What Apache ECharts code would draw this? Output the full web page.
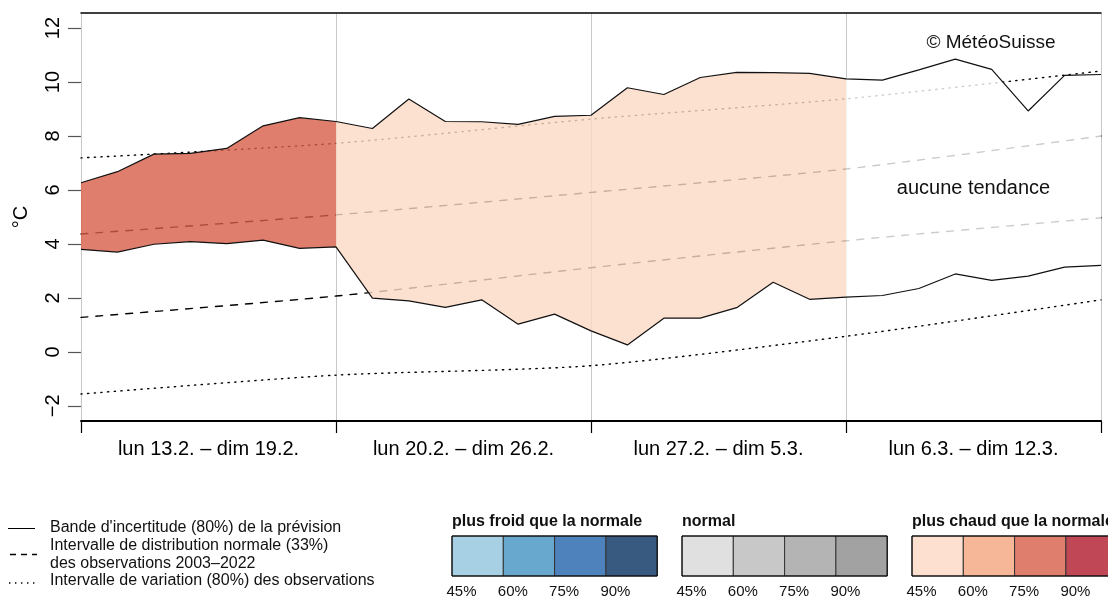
<!DOCTYPE html>
<html><head><meta charset="utf-8">
<script src="https://cdn.jsdelivr.net/npm/echarts@6/dist/echarts.min.js"></script>
<style>html,body{margin:0;padding:0;background:#fff}#c{width:1108px;height:605px}</style>
</head><body><div id="c"></div>
<script>
// ---- data ----
const dayIndex = [0,1,2,3,4,5,6,7,8,9,10,11,12,13,14,15,16,17,18,19,20,21,22,23,24,25,26,27,28];
const weekLabels = ['lun 13.2. – dim 19.2.', 'lun 20.2. – dim 26.2.', 'lun 27.2. – dim 5.3.', 'lun 6.3. – dim 12.3.'];
const weekBounds = [0, 7, 14, 21, 28];
const weekMids = [3.5, 10.5, 17.5, 24.5];
const yTicks = [-2, 0, 2, 4, 6, 8, 10, 12];
// forecast uncertainty band (80%)
const maxTemp = [6.27,6.68,7.33,7.36,7.54,8.38,8.68,8.54,8.28,9.37,8.54,8.53,8.43,8.73,8.77,9.79,9.54,10.17,10.36,10.35,10.32,10.12,10.07,10.45,10.85,10.47,8.93,10.25,10.28];
const minTemp = [3.80,3.70,3.99,4.09,4.01,4.14,3.84,3.89,1.99,1.89,1.65,1.93,1.03,1.40,0.78,0.26,1.25,1.25,1.64,2.58,1.95,2.03,2.09,2.35,2.89,2.65,2.81,3.14,3.21];
// climatology 2003-2022
const climDays = [0, 7, 14, 21, 28];
const normLow  = [1.28, 2.07, 3.12, 4.12, 4.97];
const normHigh = [4.37, 5.08, 5.91, 6.78, 8.00];
const varLow   = [-1.56, -0.86, -0.51, 0.58, 1.93];
const varHigh  = [7.19, 7.73, 8.63, 9.38, 10.41];
// weekly tendency segments
const segFrom = [0, 7, 21];
const segTo   = [7, 21, 28];
const segColor = ['rgba(216,94,74,0.8)', 'rgba(251,216,196,0.8)', 'rgba(255,255,255,0.8)'];
// legend
const coldColors = ['#a8d0e4', '#68a8cf', '#4e82bc', '#385a80'];
const normColors = ['#e0e0e0', '#c8c8c8', '#b4b4b4', '#a2a2a2'];
const warmColors = ['#fde0d0', '#f6b799', '#e07e6e', '#c04856'];
const pctLabels = ['45%', '60%', '75%', '90%'];

const FF = '"Liberation Sans", Arial, Helvetica, sans-serif';
const chart = echarts.init(document.getElementById('c'), null, {renderer: 'canvas'});

const series = [];
function climLine(vals, dash) {
  return {type: 'line', data: climDays.map((d, i) => [d, vals[i]]), smooth: 0.25,
    symbol: 'none', silent: true, lineStyle: {color: '#000', width: 1.4, type: dash, cap: 'round'}, z: 2};
}
series.push(climLine(normLow, [7, 8]));
series.push(climLine(normHigh, [7, 8]));
series.push(climLine(varLow, [1.3, 5.4]));
series.push(climLine(varHigh, [1.3, 5.4]));

series.push({
  type: 'custom', silent: true, z: 3, clip: false,
  data: segFrom.map((f, k) => [f, k]),
  renderItem: function (params, api) {
    const k = params.dataIndex;
    const days = dayIndex.filter(d => d >= segFrom[k] && d <= segTo[k]);
    const pts = [];
    days.forEach(d => pts.push(api.coord([d, maxTemp[d]])));
    days.slice().reverse().forEach(d => pts.push(api.coord([d, minTemp[d]])));
    return {type: 'polygon', shape: {points: pts}, style: {fill: segColor[k], stroke: null}};
  }
});
series.push({type: 'line', data: dayIndex.map(d => [d, maxTemp[d]]), symbol: 'none', silent: true,
  lineStyle: {color: '#111', width: 1.2}, z: 4});
series.push({type: 'line', data: dayIndex.map(d => [d, minTemp[d]]), symbol: 'none', silent: true,
  lineStyle: {color: '#111', width: 1.2}, z: 4});

// legend graphics
const g = [];
function txt(x, y, s, size, weight, align) {
  g.push({type: 'text', x: x, y: y, z: 10, silent: true, style: {text: s, fill: '#111', fontSize: size, fontFamily: FF,
    fontWeight: weight || 'normal', align: align || 'left', verticalAlign: 'middle'}});
}
function ln(x1, y1, x2, y2, dash, w) {
  g.push({type: 'line', z: 10, silent: true, shape: {x1, y1, x2, y2}, style: {stroke: '#000', lineWidth: w || 1, lineDash: dash || null}});
}
ln(8, 528.5, 35, 528.5);
txt(50, 528, "Bande d'incertitude (80%) de la prévision", 16);
ln(10, 554.5, 37, 554.5, [6, 5], 1.4);
txt(50, 545.7, 'Intervalle de distribution normale (33%)', 16);
txt(50, 563.3, 'des observations 2003–2022', 16);
ln(9, 583, 38, 583, [1.4, 4.6], 1.4);
txt(50, 581, 'Intervalle de variation (80%) des observations', 16);

const groups = [
  {x: 452, title: 'plus froid que la normale', cols: coldColors},
  {x: 682, title: 'normal', cols: normColors},
  {x: 912, title: 'plus chaud que la normale', cols: warmColors}
];
const cw = 51.3, by = 536, bh = 40;
groups.forEach(gr => {
  txt(gr.x, 521.7, gr.title, 16, 'bold');
  gr.cols.forEach((c, i) => {
    g.push({type: 'rect', z: 10, silent: true, shape: {x: gr.x + i * cw, y: by, width: cw, height: bh},
      style: {fill: c, stroke: '#333', lineWidth: 1}});
    txt(gr.x + i * cw - 5.5, 592, pctLabels[i], 15);
  });
  g.push({type: 'rect', z: 11, silent: true, shape: {x: gr.x, y: by, width: cw * 4, height: bh},
    style: {fill: 'none', stroke: '#000', lineWidth: 1}});
});
txt(991, 43, '© MétéoSuisse', 19, 'normal', 'center');
txt(973.5, 188, 'aucune tendance', 20, 'normal', 'center');

chart.setOption({
  animation: false,
  backgroundColor: '#fff',
  grid: {left: 81, right: 7, top: 13, bottom: 184},
  xAxis: [{
    type: 'value', min: 0, max: 28, interval: 7, position: 'bottom',
    axisLine: {show: true, onZero: false, lineStyle: {color: '#000', width: 2}},
    axisTick: {show: true, customValues: weekBounds, length: 12, lineStyle: {color: '#000', width: 1.2}},
    axisLabel: {show: true, customValues: weekMids, formatter: v => weekLabels[weekMids.indexOf(v)],
      margin: 18, fontSize: 20, color: '#000', fontFamily: FF},
    splitLine: {show: true, lineStyle: {color: '#c8c8c8', width: 1}}
  }, {
    type: 'value', min: 0, max: 28, position: 'top',
    axisLine: {show: true, onZero: false, lineStyle: {color: '#000', width: 1.5}},
    axisTick: {show: false}, axisLabel: {show: false}, splitLine: {show: false}
  }],
  yAxis: {
    type: 'value', min: -2.56, max: 12.56,
    axisLine: {show: false},
    axisTick: {show: true, customValues: yTicks, length: 13, lineStyle: {color: '#555', width: 1.2}},
    axisLabel: {show: true, customValues: yTicks, rotate: 90, margin: 18, fontSize: 20, color: '#000', fontFamily: FF,
      formatter: v => String(v).replace('-', '\u2212')},
    splitLine: {show: false},
    name: '°C', nameLocation: 'middle', nameRotate: 90, nameGap: 50,
    nameTextStyle: {fontSize: 20, color: '#000', fontFamily: FF}
  },
  series: series,
  graphic: g
});
</script></body></html>
